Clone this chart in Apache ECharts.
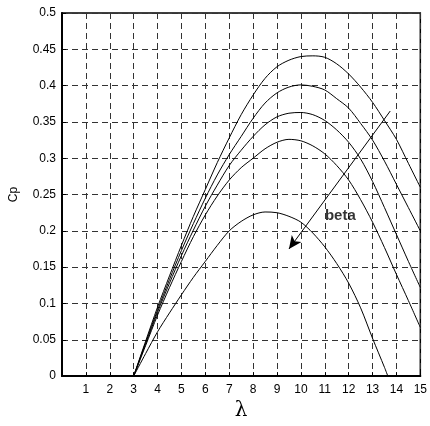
<!DOCTYPE html>
<html>
<head>
<meta charset="utf-8">
<script src="https://cdn.jsdelivr.net/npm/echarts@6/dist/echarts.min.js"></script>
<style>
  html, body { margin: 0; padding: 0; background: #fff; }
  #cp { width: 430px; height: 426px; }
</style>
</head>
<body>
<div id="cp"></div>
<script>
// tip speed ratio, every half step
var lambda = [3, 3.5, 4, 4.5, 5, 5.5, 6, 6.5, 7, 7.5, 8, 8.5, 9, 9.5, 10,
              10.5, 11, 11.5, 12, 12.5, 13, 13.5, 14, 14.5, 15];
var lambdaLow = [3, 3.5, 4, 4.5, 5, 5.5, 6, 6.5, 7, 7.5, 8, 8.5, 9, 9.5, 10,
                 10.5, 11, 11.5, 12, 12.5, 13, 13.5, 13.64];

// Cp curves, top to bottom (beta grows downward)
var cp1 = [0, 0.048, 0.095, 0.138, 0.18, 0.22, 0.257, 0.294, 0.328, 0.36, 0.387, 0.41, 0.426,
           0.435, 0.44, 0.441, 0.439, 0.43, 0.416, 0.398, 0.377, 0.352, 0.326, 0.293, 0.26];
var cp2 = [0, 0.046, 0.091, 0.133, 0.173, 0.21, 0.245, 0.277, 0.305, 0.33, 0.355, 0.376, 0.39,
           0.398, 0.401, 0.399, 0.394, 0.382, 0.369, 0.348, 0.325, 0.296, 0.264, 0.232, 0.2];
var cp3 = [0, 0.044, 0.088, 0.128, 0.166, 0.201, 0.234, 0.263, 0.29, 0.311, 0.33, 0.346, 0.357,
           0.362, 0.363, 0.36, 0.352, 0.339, 0.322, 0.299, 0.268, 0.232, 0.195, 0.158, 0.122];
var cp4 = [0, 0.042, 0.084, 0.122, 0.158, 0.192, 0.222, 0.248, 0.27, 0.287, 0.3, 0.313, 0.322,
           0.326, 0.324, 0.317, 0.306, 0.29, 0.27, 0.243, 0.212, 0.177, 0.14, 0.104, 0.067];
var cp5 = [0, 0.031, 0.061, 0.087, 0.112, 0.136, 0.158, 0.18, 0.2, 0.213, 0.222, 0.226, 0.225,
           0.22, 0.212, 0.197, 0.178, 0.155, 0.128, 0.094, 0.052, 0.012, 0];

// arrow showing increasing beta
var arrowFrom = [13.74, 0.365];
var arrowTo = [9.5, 0.175];
var betaAt = [11.65, 0.22];

function pairs(xs, ys) {
    return xs.map(function (x, i) { return [x, ys[i]]; });
}

function curve(xs, ys) {
    return {
        type: 'line',
        data: pairs(xs, ys),
        smooth: 0.3,
        showSymbol: false,
        silent: true,
        lineStyle: { color: '#000', width: 1 }
    };
}

var chart = echarts.init(document.getElementById('cp'));
var font = 'Liberation Sans, Arial, sans-serif';

var option = {
    animation: false,
    grid: {
        left: 59, right: 8, top: 13, bottom: 43,
        show: true, borderColor: '#000', borderWidth: 1.5
    },
    xAxis: {
        type: 'value',
        min: 0, max: 15, interval: 1,
        name: 'λ',
        nameLocation: 'middle',
        nameGap: 22,
        nameTextStyle: { fontSize: 20, color: '#000', fontFamily: 'DejaVu Serif, serif' },
        axisLine: { show: true, lineStyle: { color: '#000', width: 2 } },
        axisTick: { show: true, inside: true, length: 4, lineStyle: { color: '#000' } },
        axisLabel: {
            color: '#000', fontSize: 12, fontFamily: font, margin: 8,
            formatter: function (v) { return v === 0 ? '' : v; }
        },
        splitLine: { show: true, lineStyle: { color: '#333', width: 1, type: [6, 4] } }
    },
    yAxis: {
        type: 'value',
        min: 0, max: 0.5, interval: 0.05,
        name: 'Cp',
        nameLocation: 'middle',
        nameRotate: 90,
        nameGap: 42,
        nameTextStyle: { fontSize: 12, color: '#000', fontFamily: font },
        axisLine: { show: true, lineStyle: { color: '#000', width: 2 } },
        axisTick: { show: true, inside: true, length: 4, lineStyle: { color: '#000' } },
        axisLabel: {
            color: '#000', fontSize: 12, fontFamily: font, margin: 6,
            formatter: function (v) { return String(Math.round(v * 100) / 100); }
        },
        splitLine: { show: true, lineStyle: { color: '#333', width: 1, type: [6, 4] } }
    },
    series: [
        curve(lambda, cp1),
        curve(lambda, cp2),
        curve(lambda, cp3),
        curve(lambda, cp4),
        curve(lambdaLow, cp5),
        {
            type: 'scatter',
            silent: true,
            symbolSize: 1,
            itemStyle: { color: 'rgba(0,0,0,0)' },
            data: [betaAt],
            label: {
                show: true, position: 'inside', formatter: 'beta',
                color: '#000', fontSize: 15, fontWeight: 'bold', fontFamily: font
            },
            markLine: {
                silent: true,
                animation: false,
                symbol: ['none', 'arrow'],
                symbolSize: [9, 13],
                label: { show: false },
                lineStyle: { color: '#000', width: 1, type: 'solid', opacity: 1 },
                data: [[{ coord: arrowFrom }, { coord: arrowTo }]]
            }
        }
    ]
};

option && chart.setOption(option);
</script>
</body>
</html>
